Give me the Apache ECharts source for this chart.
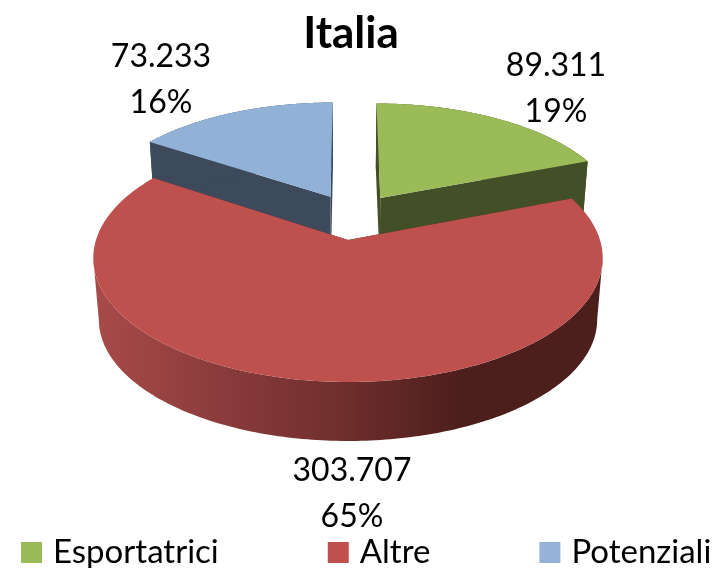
<!DOCTYPE html>
<html>
<head>
<meta charset="utf-8">
<style>html,body{margin:0;padding:0;background:#fff}#c{width:721px;height:568px}</style>
<script src="https://cdn.jsdelivr.net/npm/echarts@6/dist/echarts.min.js"></script>
</head>
<body>
<div id="c"></div>
<script>
var titleText = 'Italia';
var categories = ['Esportatrici', 'Altre', 'Potenziali'];
var values = [89311, 303707, 73233];

// layout and style, separate from the data
var topColors = ['#9BBB59', '#BE504E', '#92B1D6'];
var legendColors = ['#9BBB59', '#C0504D', '#95B3D7'];
var wallColors = ['#434F26', '#4C1E1C', '#3D4A5C'];
var labelAnchors = [[556, 89], [352, 494], [161, 80]];
var rimScale = [0.98, 1, 0.98];
var FONT = 'Lato';
var LABEL_SIZE = 32;
var CX = 348, CY = 240, RX = 252, RY = 121.4, PERSP = 0.145;
var EXPLODE = 0.2, VANISH_Y = 3100, THICK = 0.0217;
var DRAW_ORDER_Z = [1, 3, 1];

var total = values.reduce(function (a, b) { return a + b; }, 0);
var spans = values.map(function (v) { return v / total * Math.PI * 2; });
var starts = spans.map(function (s, i) {
  return spans.slice(0, i).reduce(function (a, b) { return a + b; }, 0);
});
function mids(i) { return starts[i] + spans[i] / 2; }
function fmt(v) { return String(v).replace(/\B(?=(\d{3})+$)/g, '.'); }

// the pie is fitted so that slice index 1 (the front slice) has its apex at CX,CY
var refU = EXPLODE * Math.sin(mids(1)), refV = -EXPLODE * Math.cos(mids(1));

function project(i, ang, rad) {
  var u = rad * Math.sin(ang) + EXPLODE * Math.sin(mids(i)) - refU;
  var v = -rad * Math.cos(ang) - EXPLODE * Math.cos(mids(i)) - refV;
  var d = 1 - PERSP * v;
  return [CX + RX * u / d, CY + RY * v / d];
}
function lower(p) {
  return [p[0] + THICK * (CX - p[0]), p[1] + THICK * (VANISH_Y - p[1])];
}
function arc(i) {
  var n = 240, pts = [];
  for (var k = 0; k <= n; k++) pts.push(project(i, starts[i] + spans[i] * k / n, rimScale[i]));
  return pts;
}
function poly(points, fill) {
  return { type: 'polygon', shape: { points: points }, style: { fill: fill, stroke: null } };
}
// keep only the part of the rim between its horizontal extremes, so the
// wall outline runs straight down from the widest points of the top face
function visibleRim(rim) {
  var a = 0, b = 0;
  rim.forEach(function (p, k) {
    if (p[0] < rim[a][0]) a = k;
    if (p[0] > rim[b][0]) b = k;
  });
  return rim.slice(Math.min(a, b), Math.max(a, b) + 1);
}

function makeRender(i) {
  return function () {
    var rim = arc(i);
    var apex = project(i, 0, 0);
    var first = rim[0], last = rim[rim.length - 1];
    var wallFill = i === 1
      ? new echarts.graphic.LinearGradient(0, 0, 1, 0, [
          { offset: 0, color: '#A84B49' },
          { offset: 0.28, color: '#87393A' },
          { offset: 0.5, color: '#6E2E2C' },
          { offset: 0.72, color: '#4C1E1C' },
          { offset: 1, color: '#4C1E1C' }
        ])
      : wallColors[i];
    var front = visibleRim(rim);
    var children = [
      poly([apex, first, lower(first), lower(apex)], wallColors[i]),
      poly([apex, last, lower(last), lower(apex)], wallColors[i]),
      poly(front.concat(front.map(lower).reverse()), wallFill),
      poly([apex].concat(rim), topColors[i]),
      {
        type: 'text',
        x: labelAnchors[i][0],
        y: labelAnchors[i][1],
        z2: 10,
        style: {
          text: fmt(values[i]) + '\n' + Math.round(values[i] / total * 100) + '%',
          fill: '#000',
          fontFamily: FONT,
          fontSize: LABEL_SIZE,
          lineHeight: 46,
          align: 'center',
          verticalAlign: 'middle'
        }
      }
    ];
    return { type: 'group', children: children };
  };
}

var chart = echarts.init(document.getElementById('c'), null, { renderer: 'canvas' });
chart.setOption({
  animation: false,
  backgroundColor: '#fff',
  title: {
    text: titleText,
    left: 346,
    textAlign: 'center',
    top: 7,
    textStyle: { fontFamily: FONT, fontWeight: 'bold', fontSize: 44, color: '#000' }
  },
  legend: {
    left: 21,
    top: 536,
    padding: 0,
    itemWidth: 21,
    itemHeight: 21,
    itemGap: 109,
    icon: 'rect',
    data: categories.map(function (c, i) {
      return { name: c, itemStyle: { color: legendColors[i] } };
    }),
    textStyle: { fontFamily: FONT, fontSize: 33, color: '#000', padding: [0, 0, 0, 6] }
  },
  series: categories.map(function (c, i) {
    return {
      type: 'custom',
      name: c,
      coordinateSystem: 'none',
      clip: false,
      silent: true,
      z: DRAW_ORDER_Z[i],
      itemStyle: { color: legendColors[i] },
      renderItem: makeRender(i),
      data: [values[i]]
    };
  })
});
</script>
</body>
</html>
